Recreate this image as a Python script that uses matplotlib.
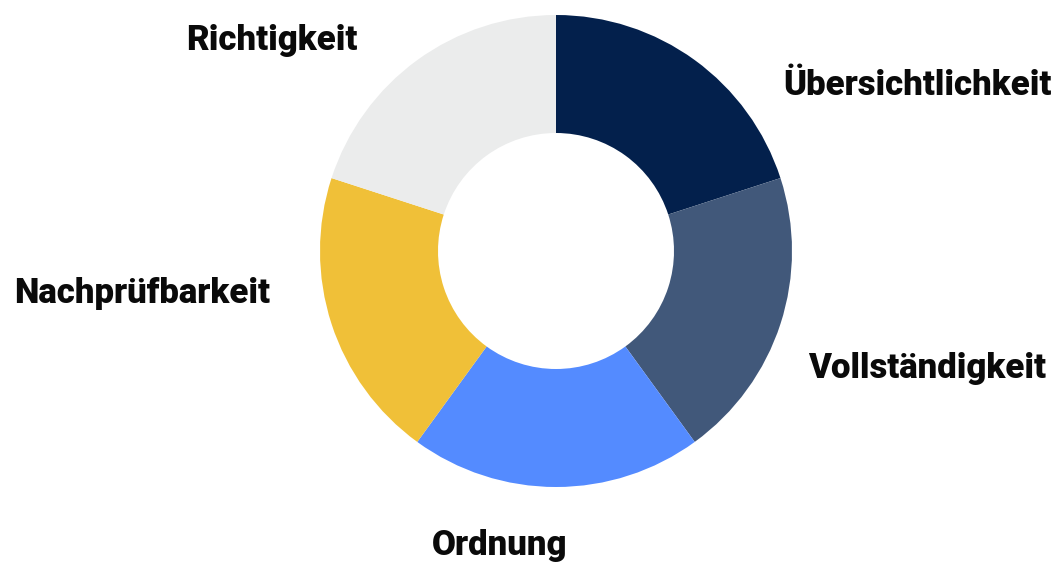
import matplotlib
matplotlib.use("Agg")
import matplotlib.pyplot as plt

labels = ["Übersichtlichkeit", "Vollständigkeit", "Ordnung", "Nachprüfbarkeit", "Richtigkeit"]
values = [20, 20, 20, 20, 20]
colors = ["#03204C", "#41587A", "#548BFF", "#F0C038", "#EBECEC"]

# label anchor positions (in pie radius units) and alignment
label_pos = [(0.962, 0.703, "left"), (1.068, -0.496, "left"), (-0.237, -1.246, "center"),
             (-1.212, -0.178, "right"), (-0.839, 0.894, "right")]

fig = plt.figure(figsize=(10.58, 5.65), dpi=100)
ax = fig.add_axes([320/1058, (565-487)/565, 472/1058, 472/565])
ax.pie(values, colors=colors, startangle=90, counterclock=False, radius=1,
       wedgeprops=dict(width=0.5, edgecolor="none"))
ax.set_xlim(-1, 1)
ax.set_ylim(-1, 1)
ax.set_aspect("equal")
ax.axis("off")

for lab, (x, y, ha) in zip(labels, label_pos):
    ax.text(x, y, lab, ha=ha, va="center", fontsize=25, fontweight=900,
            family="Roboto", color="#0a0a0a", clip_on=False)

fig.savefig("out.png", dpi=100)
